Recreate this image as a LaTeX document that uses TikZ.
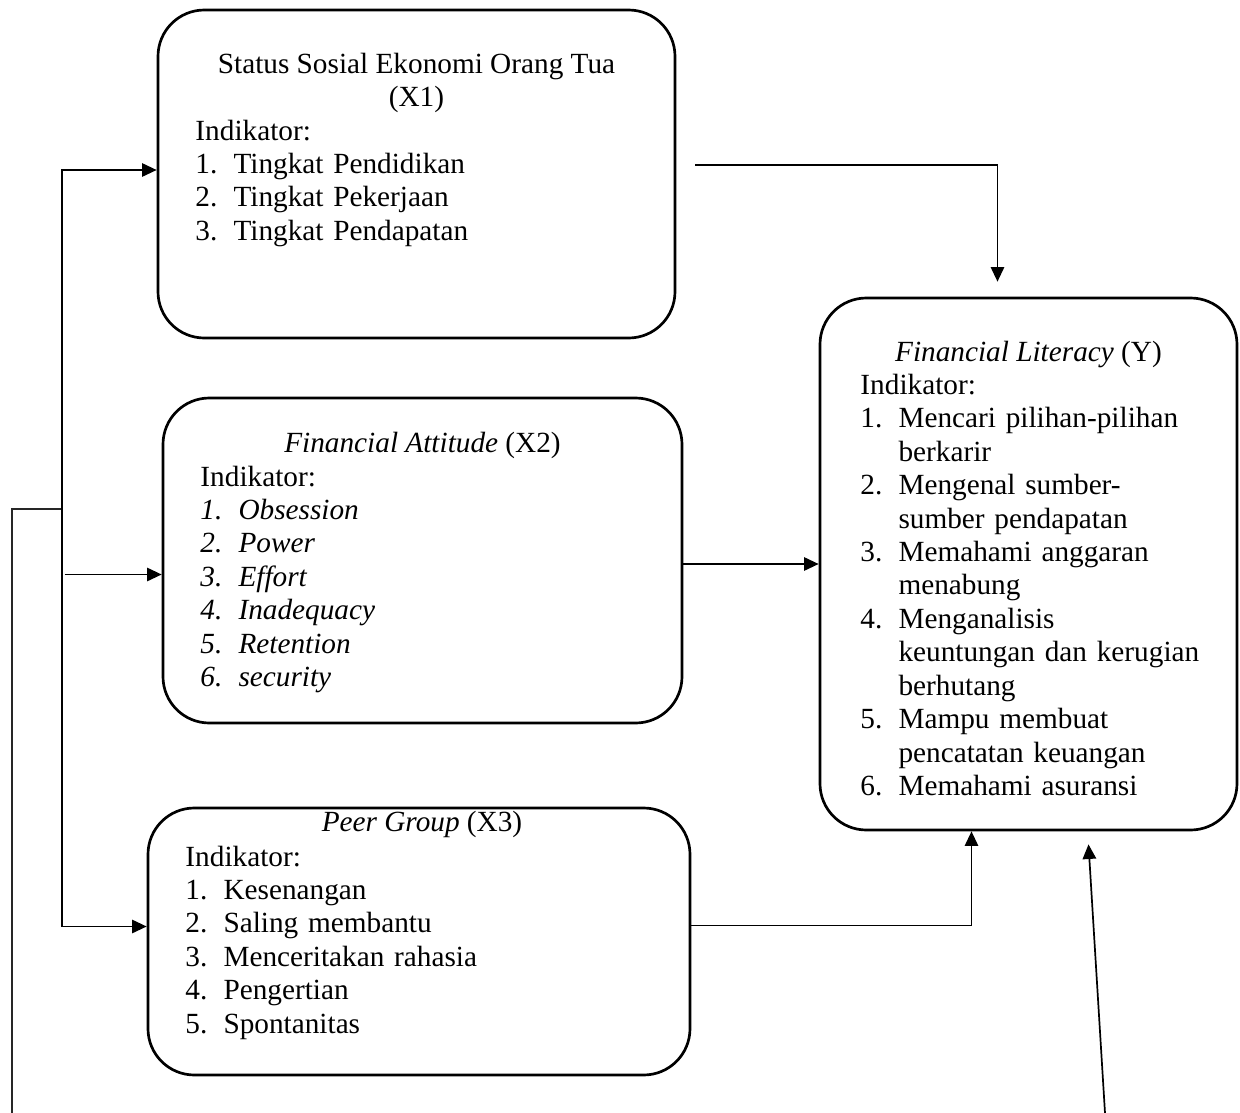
\documentclass[tikz,border=0pt]{standalone}
\usepackage{fontspec}
\setmainfont{Liberation Serif}
\usetikzlibrary{arrows.meta,calc,fit}
\tikzset{
box/.style={draw=black,line width=1.1pt,rounded corners=19pt,inner sep=0pt},
head/.style={anchor=base,align=center,inner sep=0pt,font=\fontsize{12pt}{13.7pt}\selectfont},
list/.style={anchor=base west,align=left,text width=170pt,inner sep=0pt,font=\fontsize{12pt}{13.7pt}\selectfont},
arr/.style={-{Triangle[length=6pt,width=5.5pt]},line width=0.7pt,draw=black},
wire/.style={line width=0.7pt,draw=black!85}
}
\newcommand\butir[2]{\par\noindent\hangindent=15.6pt\hangafter=1\makebox[15.6pt][l]{#1}#2}
\newcommand\brk{\hfil\break}

\begin{document}
\begin{tikzpicture}[x=0.41pt,y=-0.41pt]
\useasboundingbox (0,0) rectangle (1240,1113);
% the four variable boxes
\node[box,fit={(158,10) (675,338)}] (x1) {};
\node[box,fit={(163,398) (682,723)}] (x2) {};
\node[box,fit={(148,808) (690,1075)}] (x3) {};
\node[box,fit={(820,298) (1237,830)}] (y) {};
% X1
\node[head] (x1h) at (416.5,106.5) {Status Sosial Ekonomi Orang Tua\\(X1)};
\node[list] (x1l) at (195,140) {\noindent Indikator:
  \butir{1.}{Tingkat Pendidikan}
  \butir{2.}{Tingkat Pekerjaan}
  \butir{3.}{Tingkat Pendapatan}};
% X2
\node[head] (x2h) at (422.5,452) {\textit{Financial Attitude} (X2)};
\node[list] (x2l) at (200,486) {\noindent Indikator:\par\itshape
  \butir{1.}{Obsession}
  \butir{2.}{Power}
  \butir{3.}{Effort}
  \butir{4.}{Inadequacy}
  \butir{5.}{Retention}
  \butir{6.}{security}};
% X3
\node[head] (x3h) at (422,831) {\textit{Peer Group} (X3)};
\node[list] (x3l) at (185,866) {\noindent Indikator:
  \butir{1.}{Kesenangan}
  \butir{2.}{Saling membantu}
  \butir{3.}{Menceritakan rahasia}
  \butir{4.}{Pengertian}
  \butir{5.}{Spontanitas}};
% Y
\node[head] (yh) at (1028.5,361) {\textit{Financial Literacy} (Y)};
\node[list] (yl) at (860,394.5) {\noindent Indikator:
  \butir{1.}{Mencari pilihan-pilihan\brk berkarir}
  \butir{2.}{Mengenal sumber-\brk sumber pendapatan}
  \butir{3.}{Memahami anggaran\brk menabung}
  \butir{4.}{Menganalisis\brk keuntungan dan kerugian\brk berhutang}
  \butir{5.}{Mampu membuat\brk pencatatan keuangan}
  \butir{6.}{Memahami asuransi}};
% left branch
\coordinate (src) at (12,1113);
\coordinate (jn) at (62,509);
\draw[wire] (src) |- (jn);
\draw[arr] (jn) |- ($(x1.west)+(0,-4)$);
\draw[arr] (jn) |- ($(x3.west)+(0,-15)$);
\draw[arr] ($(x2.west)+(-97,14)$) -- ($(x2.west)+(0,14)$);
% into Y
\draw[arr] ($(x1.east)+(19,-9)$) -| ($(y.north)+(-31,-15)$);
\draw[arr] (x2.east |- y.west) -- (y.west);
\draw[arr] ($(x3.east)+(0,-16)$) -| ($(y.south)+(-57,0)$);
\coordinate (ext) at (1105,1113);
\draw[arr] (ext) -- ($(y.south)+(60,13)$);
\end{tikzpicture}
\end{document}
